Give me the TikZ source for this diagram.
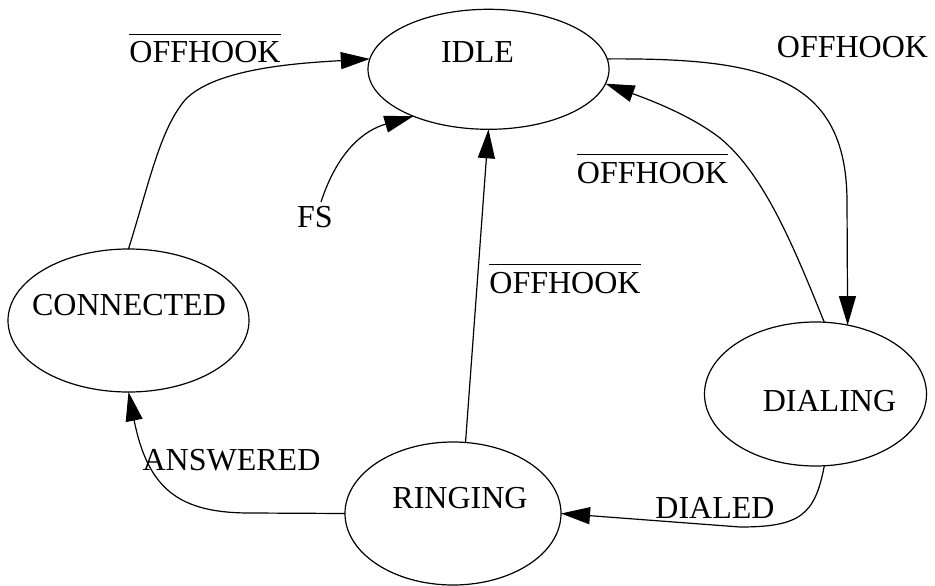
\documentclass[tikz,border=0pt]{standalone}
\usepackage{fontspec}
\setmainfont{Liberation Serif}
\usetikzlibrary{shapes.geometric,arrows.meta}
\newcommand\ovbar[1]{\vbox{\hrule height 1.8pt\kern 6.5pt\hbox{#1}}}
\begin{document}
\begin{tikzpicture}[x=1pt,y=-1pt,
  state/.style={draw, ellipse, inner sep=0pt, outer sep=0pt, line width=1.2pt},
  lbl/.style={anchor=base, inner sep=0pt, font=\fontsize{32}{38}\selectfont},
  edge/.style={draw, line width=1.2pt, -{Triangle[length=29pt,width=17pt]}}]
\path[use as bounding box] (0,0) rectangle (935,586);
\node[state, minimum width=241pt, minimum height=120pt] (idle) at (488.5,69.3) {};
\node[state, minimum width=241pt, minimum height=143pt] (connected) at (128.5,320.5) {};
\node[state, minimum width=222pt, minimum height=144pt] (dialing) at (815.5,394) {};
\node[state, minimum width=216pt, minimum height=143pt] (ringing) at (453,513.5) {};
\node[lbl] (t1) at (477.5,63) {IDLE};
\node[lbl] (t2) at (129,315) {CONNECTED};
\node[lbl] (t3) at (829.5,411) {DIALING};
\node[lbl] (t4) at (460,508) {RINGING};
\coordinate (fs) at (321,202);
\draw[edge] (connected.north) .. controls (150,180) and (160,130) .. (185,100) .. controls (215,68) and (300,63) .. (idle.175);
\draw[edge] (fs) .. controls (338,150) and (365,130) .. (idle.212);
\draw[edge] (idle.5) .. controls (760,58) and (846,75) .. (847,200) -- (dialing.65);
\draw[edge] (dialing.83) .. controls (795,250) and (765,175) .. (720,138) .. controls (690,115) and (650,100) .. (idle.353);
\draw[edge] (ringing.80) -- (idle.south);
\draw[edge] (dialing.277) .. controls (815,515) and (800,527) .. (740,527) -- (ringing.east);
\draw[edge] (ringing.west) -- (250,513) .. controls (180,513) and (148,490) .. (connected.south);
\node[lbl] (l1) at (205,63) {\ovbar{OFFHOOK}};
\node[lbl] (l2) at (852.5,58) {OFFHOOK};
\node[lbl] (l3) at (652.5,183) {\ovbar{OFFHOOK}};
\node[lbl] (l4) at (565,293) {\ovbar{OFFHOOK}};
\node[lbl] (l5) at (315,227) {FS};
\node[lbl] (l6) at (231.5,470) {ANSWERED};
\node[lbl] (l7) at (715,518) {DIALED};
\end{tikzpicture}
\end{document}
